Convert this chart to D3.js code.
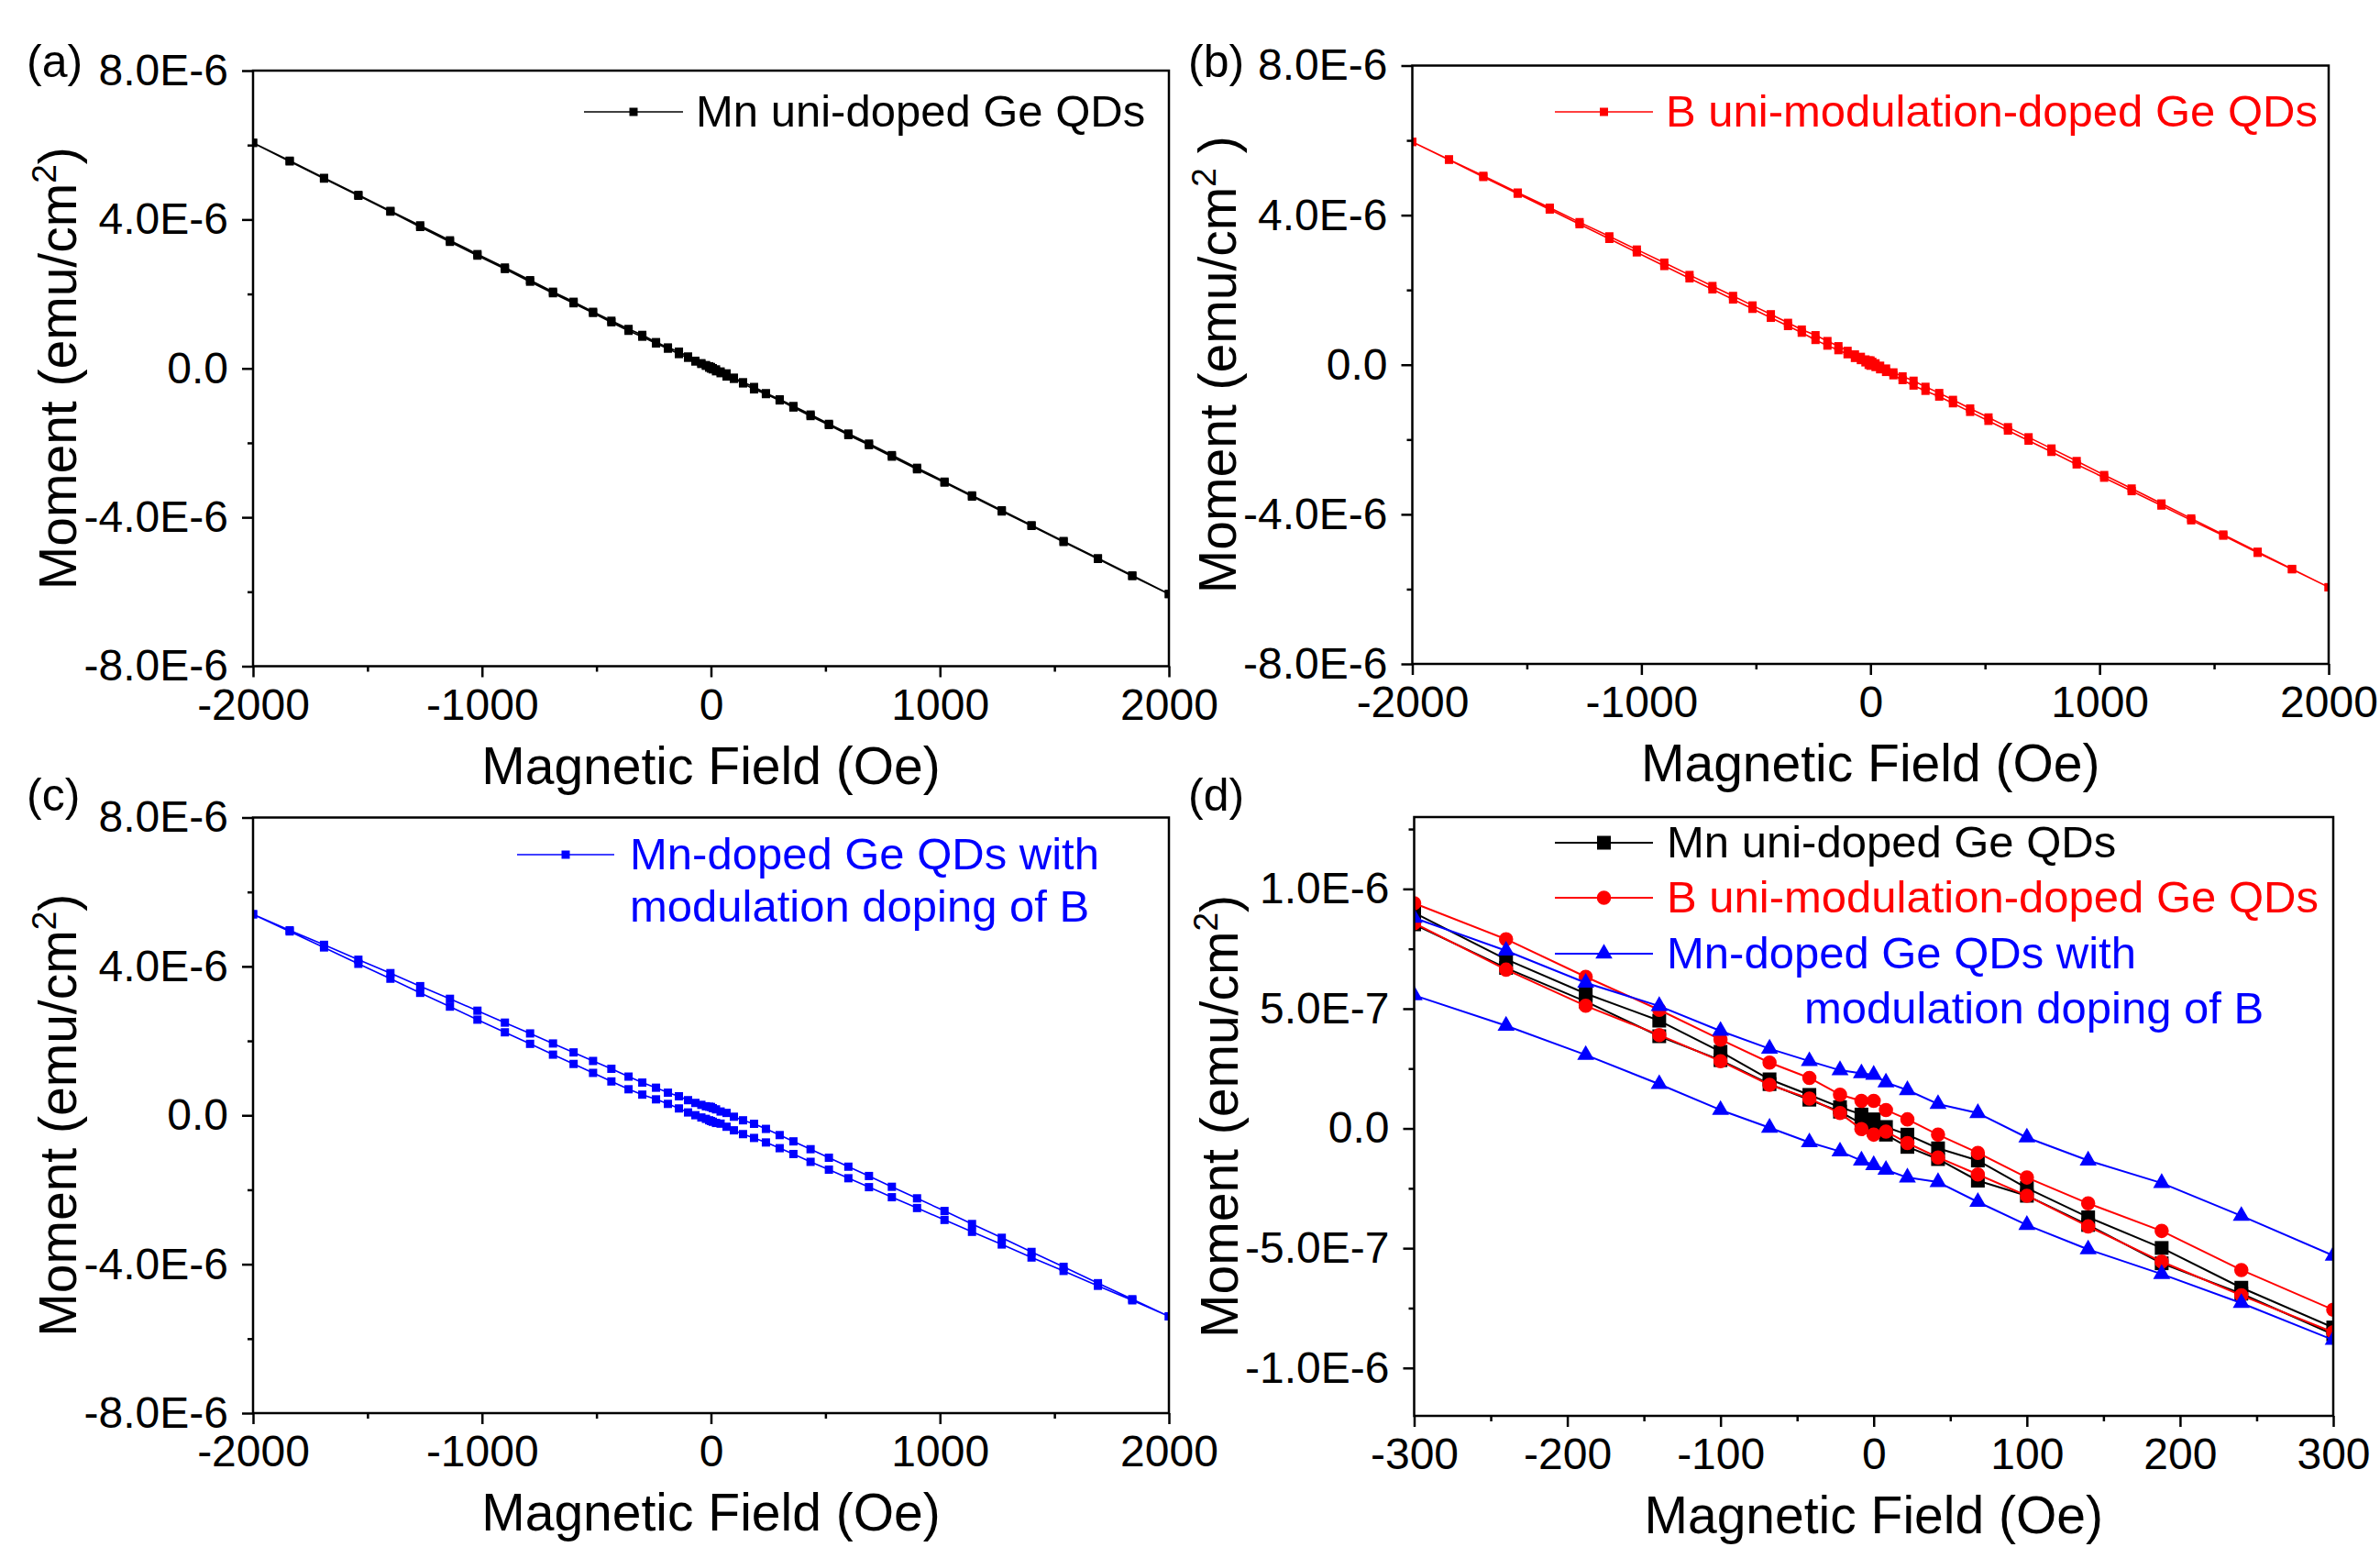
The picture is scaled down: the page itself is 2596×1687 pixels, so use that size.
<!DOCTYPE html>
<html><head><meta charset="utf-8">
<script src="https://cdn.jsdelivr.net/npm/d3@7"></script>
<style>body{margin:0;background:#fff}</style>
</head><body>
<script>
// ---------------- DATA (moment in units of 1E-6 emu/cm^2, field in Oe) ----------------
const fieldDown = [2000,1840,1690,1540,1400,1270,1140,1020,900,790,690,600,515,435,360,300,240,188,140,100,68,42,22,8,0,-8,-22,-42,-68,-100,-140,-188,-240,-300,-360,-435,-515,-600,-690,-790,-900,-1020,-1140,-1270,-1400,-1540,-1690,-1840,-2000];
const fieldUp = [-2000,-1840,-1690,-1540,-1400,-1270,-1140,-1020,-900,-790,-690,-600,-515,-435,-360,-300,-240,-188,-140,-100,-68,-42,-22,-8,0,8,22,42,68,100,140,188,240,300,360,435,515,600,690,790,900,1020,1140,1270,1400,1540,1690,1840,2000];

const mnDown = [-6.06,-5.56,-5.10,-4.64,-4.21,-3.81,-3.41,-3.04,-2.67,-2.33,-2.02,-1.75,-1.49,-1.24,-1.01,-0.831,-0.665,-0.499,-0.371,-0.249,-0.134,-0.083,-0.026,0.006,0.038,0.058,0.089,0.140,0.205,0.320,0.450,0.563,0.706,0.900,1.06,1.28,1.52,1.79,2.06,2.37,2.71,3.07,3.44,3.84,4.23,4.66,5.12,5.58,6.06];
const mnUp = [6.06,5.56,5.10,4.64,4.21,3.80,3.40,3.03,2.67,2.33,2.02,1.75,1.49,1.24,1.01,0.852,0.670,0.530,0.385,0.285,0.185,0.120,0.070,0.020,-0.005,-0.026,-0.077,-0.128,-0.218,-0.281,-0.403,-0.563,-0.690,-0.860,-1.05,-1.28,-1.52,-1.79,-2.06,-2.37,-2.71,-3.07,-3.44,-3.84,-4.23,-4.66,-5.12,-5.58,-6.06];

const bDown = [-5.95,-5.46,-5.00,-4.54,-4.11,-3.71,-3.31,-2.95,-2.575,-2.24,-1.94,-1.67,-1.41,-1.17,-0.94,-0.757,-0.591,-0.428,-0.313,-0.205,-0.102,-0.026,0.038,0.077,0.115,0.115,0.141,0.211,0.275,0.371,0.495,0.633,0.790,0.940,1.12,1.35,1.585,1.84,2.105,2.40,2.73,3.08,3.435,3.81,4.20,4.605,5.05,5.49,5.96];
const bUp = [5.96,5.48,5.02,4.575,4.15,3.76,3.365,3.005,2.64,2.31,2.015,1.745,1.495,1.255,1.035,0.857,0.663,0.512,0.390,0.281,0.182,0.125,0.064,-0.003,-0.026,-0.013,-0.061,-0.121,-0.192,-0.281,-0.409,-0.556,-0.697,-0.851,-1.03,-1.26,-1.50,-1.76,-2.03,-2.33,-2.665,-3.02,-3.38,-3.765,-4.16,-4.57,-5.03,-5.47,-5.95];

const mnbDown = [-5.40,-4.94,-4.51,-4.07,-3.67,-3.29,-2.92,-2.57,-2.23,-1.92,-1.63,-1.38,-1.14,-0.91,-0.70,-0.531,-0.365,-0.228,-0.134,-0.038,0.064,0.102,0.160,0.192,0.224,0.230,0.243,0.281,0.333,0.407,0.511,0.608,0.742,0.879,1.04,1.25,1.46,1.69,1.93,2.20,2.49,2.81,3.13,3.47,3.82,4.18,4.58,4.97,5.40];
const mnbUp = [5.40,4.94,4.51,4.07,3.67,3.29,2.92,2.57,2.23,1.92,1.63,1.38,1.14,0.91,0.70,0.556,0.429,0.307,0.185,0.077,0.003,-0.058,-0.096,-0.134,-0.153,-0.173,-0.205,-0.224,-0.307,-0.403,-0.505,-0.608,-0.729,-0.883,-1.04,-1.25,-1.46,-1.69,-1.93,-2.20,-2.49,-2.81,-3.13,-3.47,-3.82,-4.18,-4.58,-4.97,-5.40];

const xTicksFull = [-2000,-1000,0,1000,2000];
const xTickLabelsFull = ["-2000","-1000","0","1000","2000"];
const xMinorFull = [-1500,-500,500,1500];
const yTicksFull = [-8,-4,0,4,8];
const yTickLabelsFull = ["-8.0E-6","-4.0E-6","0.0","4.0E-6","8.0E-6"];
const yMinorFull = [-6,-2,2,6];

const xTicksZoom = [-300,-200,-100,0,100,200,300];
const xTickLabelsZoom = ["-300","-200","-100","0","100","200","300"];
const xMinorZoom = [-250,-150,-50,50,150,250];
const yTicksZoom = [-1,-0.5,0,0.5,1];
const yTickLabelsZoom = ["-1.0E-6","-5.0E-7","0.0","5.0E-7","1.0E-6"];
const yMinorZoom = [-0.75,-0.25,0.25,0.75,1.25];

const seriesNames = ["Mn uni-doped Ge QDs","B uni-modulation-doped Ge QDs","Mn-doped Ge QDs with","modulation doping of B"];
const panelLabels = ["(a)","(b)","(c)","(d)"];
const xTitle = "Magnetic Field (Oe)";

// ---------------- DRAWING ----------------
const W = 2596, H = 1687;
const FONT = "'Liberation Sans', Arial, Helvetica, sans-serif";
const svg = d3.select("body").append("svg").attr("width", W).attr("height", H)
  .attr("font-family", FONT);
svg.append("rect").attr("width", W).attr("height", H).attr("fill", "#fff");
const defs = svg.append("defs");

const mnSeries = {field: fieldDown.concat(fieldUp), moment: mnDown.concat(mnUp), color: "#000000"};
const bSeries = {field: fieldDown.concat(fieldUp), moment: bDown.concat(bUp), color: "#ff0000"};
const mnbSeries = {field: fieldDown.concat(fieldUp), moment: mnbDown.concat(mnbUp), color: "#0000ff"};

function drawPanel(p) {
  const x = d3.scaleLinear().domain(p.xDomain).range([p.left, p.right]);
  const y = d3.scaleLinear().domain(p.yDomain).range([p.bottom, p.top]);
  defs.append("clipPath").attr("id", "clip-" + p.id).append("rect")
    .attr("x", p.left).attr("y", p.top).attr("width", p.right - p.left).attr("height", p.bottom - p.top);
  const plot = svg.append("g").attr("clip-path", `url(#clip-${p.id})`);
  p.series.forEach(s => {
    const pts = s.data.field.map((h, i) => ({h: h, m: s.data.moment[i]}));
    plot.append("path").datum(pts)
      .attr("d", d3.line().x(d => x(d.h)).y(d => y(d.m)))
      .attr("fill", "none").attr("stroke", s.data.color).attr("stroke-width", p.lineWidth)
      .attr("stroke-linejoin", "round");
    plot.append("g").selectAll("path").data(pts).join("path")
      .attr("transform", d => `translate(${x(d.h)},${y(d.m)})`)
      .attr("d", d3.symbol(s.symbol, s.size))
      .attr("fill", s.data.color);
  });

  // axes
  const styleAxis = g => {
    g.select(".domain").remove();
    g.selectAll("line").attr("stroke", "#000").attr("stroke-width", 2.5);
    g.selectAll("text").attr("font-size", 48).attr("font-family", FONT).attr("fill", "#000");
  };
  svg.append("g").attr("transform", `translate(0,${p.bottom})`)
    .call(d3.axisBottom(x).tickValues(p.xTicks).tickFormat((d, i) => p.xTickLabels[i])
      .tickSize(12).tickSizeOuter(0).tickPadding(12))
    .call(styleAxis);
  svg.append("g").attr("transform", `translate(0,${p.bottom})`)
    .call(d3.axisBottom(x).tickValues(p.xMinor).tickFormat("").tickSize(6).tickSizeOuter(0))
    .call(styleAxis);
  svg.append("g").attr("transform", `translate(${p.left},0)`)
    .call(d3.axisLeft(y).tickValues(p.yTicks).tickFormat((d, i) => p.yTickLabels[i])
      .tickSize(12).tickSizeOuter(0).tickPadding(15))
    .call(styleAxis);
  svg.append("g").attr("transform", `translate(${p.left},0)`)
    .call(d3.axisLeft(y).tickValues(p.yMinor).tickFormat("").tickSize(6).tickSizeOuter(0))
    .call(styleAxis);

  // frame
  svg.append("rect").attr("x", p.left).attr("y", p.top)
    .attr("width", p.right - p.left).attr("height", p.bottom - p.top)
    .attr("fill", "none").attr("stroke", "#000").attr("stroke-width", 2.5);

  // titles
  svg.append("text").attr("x", (p.left + p.right) / 2).attr("y", p.bottom + 128)
    .attr("text-anchor", "middle").attr("font-size", 57).text(xTitle);
  const yt = svg.append("text")
    .attr("transform", `translate(${p.left - 193},${(p.top + p.bottom) / 2}) rotate(-90)`)
    .attr("text-anchor", "middle").attr("font-size", 57);
  yt.append("tspan").text("Moment (emu/cm");
  yt.append("tspan").attr("font-size", 37).attr("dy", -22).text("2");
  yt.append("tspan").attr("dy", 22).text(p.yTitleClose);

  // panel label
  svg.append("text").attr("x", p.labelX).attr("y", p.labelY).attr("font-size", 50).text(p.label);

  // legend
  p.legend.forEach(l => {
    if (l.symbol) {
      svg.append("line").attr("x1", l.x1).attr("x2", l.x2).attr("y1", l.y).attr("y2", l.y)
        .attr("stroke", l.color).attr("stroke-width", p.lineWidth);
      svg.append("path").attr("transform", `translate(${(l.x1 + l.x2) / 2},${l.y})`)
        .attr("d", d3.symbol(l.symbol, l.size)).attr("fill", l.color);
    }
    svg.append("text").attr("x", l.tx).attr("y", l.ty).attr("font-size", 49)
      .attr("fill", l.color).text(l.text);
  });
}

const sq = d3.symbolSquare;
drawPanel({
  id: "a", left: 276, right: 1275, top: 77, bottom: 726.5,
  xDomain: [-2000, 2000], yDomain: [-8, 8],
  xTicks: xTicksFull, xTickLabels: xTickLabelsFull, xMinor: xMinorFull,
  yTicks: yTicksFull, yTickLabels: yTickLabelsFull, yMinor: yMinorFull,
  lineWidth: 1.6, yTitleClose: ")",
  series: [{data: mnSeries, symbol: sq, size: 81}],
  label: panelLabels[0], labelX: 29, labelY: 84,
  legend: [{x1: 637, x2: 745, y: 122, symbol: sq, size: 81, color: "#000000", tx: 759, ty: 138, text: seriesNames[0]}]
});
drawPanel({
  id: "b", left: 1540.5, right: 2540, top: 71.5, bottom: 724,
  xDomain: [-2000, 2000], yDomain: [-8, 8],
  xTicks: xTicksFull, xTickLabels: xTickLabelsFull, xMinor: xMinorFull,
  yTicks: yTicksFull, yTickLabels: yTickLabelsFull, yMinor: yMinorFull,
  lineWidth: 1.6, yTitleClose: " )",
  series: [{data: bSeries, symbol: sq, size: 81}],
  label: panelLabels[1], labelX: 1296, labelY: 84,
  legend: [{x1: 1696, x2: 1803, y: 122, symbol: sq, size: 81, color: "#ff0000", tx: 1817, ty: 138, text: seriesNames[1]}]
});
drawPanel({
  id: "c", left: 276, right: 1275, top: 891.5, bottom: 1541,
  xDomain: [-2000, 2000], yDomain: [-8, 8],
  xTicks: xTicksFull, xTickLabels: xTickLabelsFull, xMinor: xMinorFull,
  yTicks: yTicksFull, yTickLabels: yTickLabelsFull, yMinor: yMinorFull,
  lineWidth: 1.6, yTitleClose: ")",
  series: [{data: mnbSeries, symbol: sq, size: 81}],
  label: panelLabels[2], labelX: 29, labelY: 884,
  legend: [
    {x1: 564, x2: 670, y: 932, symbol: sq, size: 81, color: "#0000ff", tx: 687, ty: 948, text: seriesNames[2]},
    {color: "#0000ff", tx: 687, ty: 1005, text: seriesNames[3]}
  ]
});
drawPanel({
  id: "d", left: 1542.5, right: 2545, top: 891, bottom: 1544,
  xDomain: [-300, 300], yDomain: [-1.2, 1.3],
  xTicks: xTicksZoom, xTickLabels: xTickLabelsZoom, xMinor: xMinorZoom,
  yTicks: yTicksZoom, yTickLabels: yTickLabelsZoom, yMinor: yMinorZoom,
  lineWidth: 2, yTitleClose: ")",
  series: [
    {data: mnSeries, symbol: sq, size: 225},
    {data: bSeries, symbol: d3.symbolCircle, size: 190},
    {data: mnbSeries, symbol: d3.symbolTriangle, size: 150}
  ],
  label: panelLabels[3], labelX: 1296, labelY: 884,
  legend: [
    {x1: 1696, x2: 1803, y: 919, symbol: sq, size: 225, color: "#000000", tx: 1818, ty: 935, text: seriesNames[0]},
    {x1: 1696, x2: 1803, y: 979, symbol: d3.symbolCircle, size: 190, color: "#ff0000", tx: 1818, ty: 995, text: seriesNames[1]},
    {x1: 1696, x2: 1803, y: 1040, symbol: d3.symbolTriangle, size: 150, color: "#0000ff", tx: 1818, ty: 1056, text: seriesNames[2]},
    {color: "#0000ff", tx: 1968, ty: 1116, text: seriesNames[3]}
  ]
});
</script>
</body></html>
